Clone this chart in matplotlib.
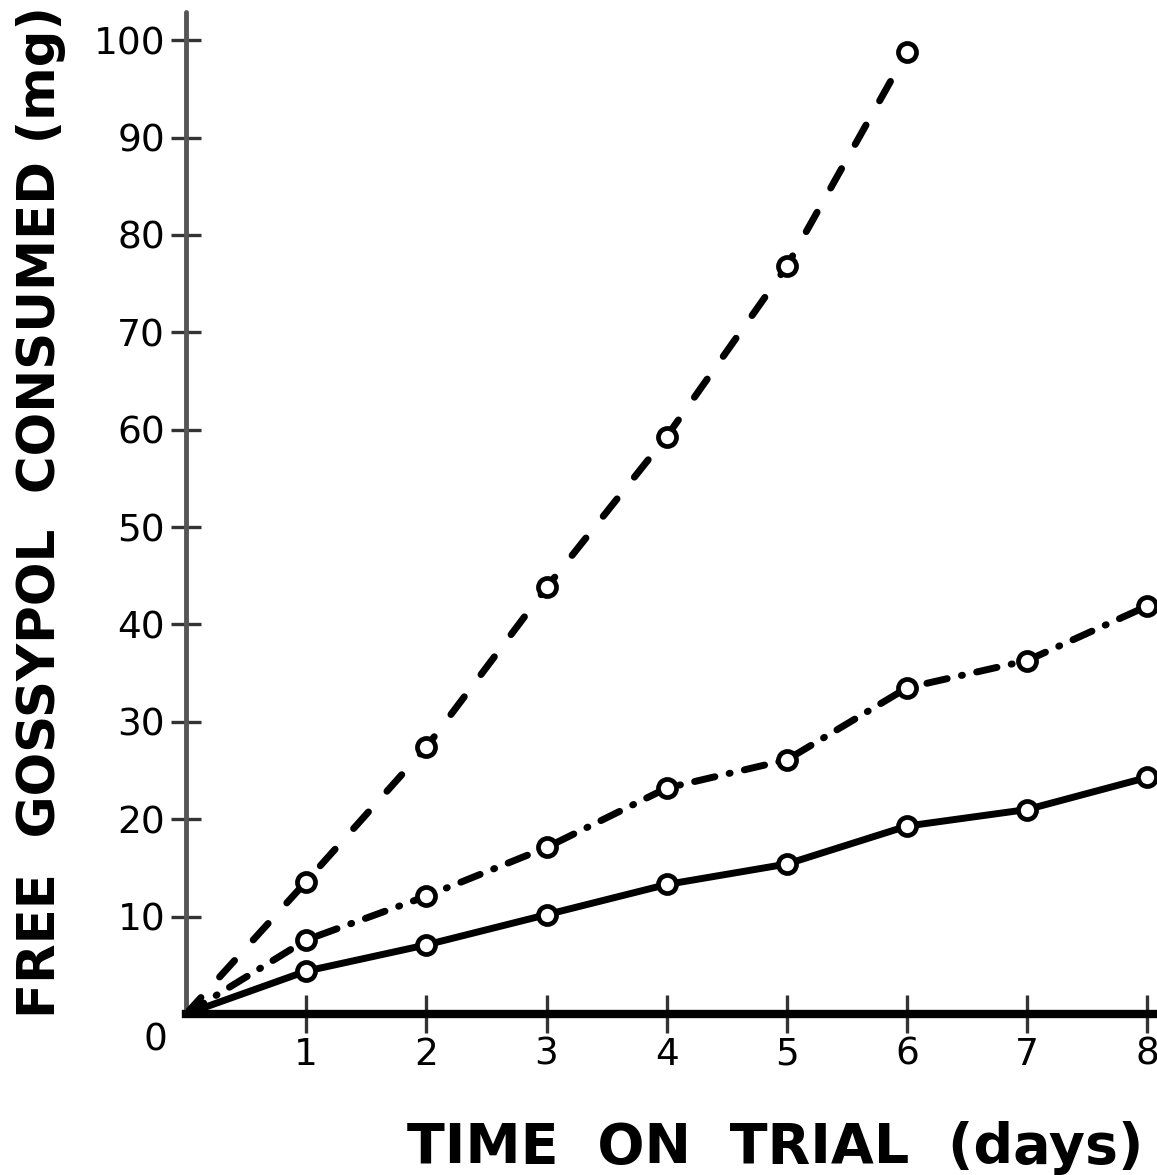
import matplotlib
matplotlib.use('Agg')
import matplotlib.pyplot as plt

# ---- data ----
days_dashed = [0, 1, 2, 3, 4, 5, 6]
dashed_vals = [0, 13.6, 27.4, 43.8, 59.3, 76.8, 98.8]

days_full = [0, 1, 2, 3, 4, 5, 6, 7, 8]
dashdot_vals = [0, 7.6, 12.1, 17.1, 23.2, 26.1, 33.5, 36.3, 41.9]
solid_vals = [0, 4.4, 7.1, 10.2, 13.3, 15.4, 19.3, 21.0, 24.3]

x_ticks = [1, 2, 3, 4, 5, 6, 7, 8]
x_tick_labels = ['1', '2', '3', '4', '5', '6', '7', '8']
y_ticks = [10, 20, 30, 40, 50, 60, 70, 80, 90, 100]
y_tick_labels = ['10', '20', '30', '40', '50', '60', '70', '80', '90', '100']

x_label = 'TIME  ON  TRIAL  (days)'
y_label = 'FREE  GOSSYPOL  CONSUMED (mg)'

plt.rcParams['font.family'] = ['DejaVu Sans']

W, H = 1157, 1175
fig = plt.figure(figsize=(W / 100, H / 100), dpi=100)
left_px, bottom_px, top_px = 186, 1014, 12
ax = fig.add_axes([left_px / W, (H - bottom_px) / H, (W - left_px) / W, (bottom_px - top_px) / H])

ax.set_xlim(0, 8.08)
ax.set_ylim(0, 102.9)

lw = 5
mk = dict(marker='o', markersize=13, markerfacecolor='white',
          markeredgecolor='black', markeredgewidth=3.4, markevery=slice(1, None))

ax.plot(days_dashed, dashed_vals, color='black', lw=lw, dashes=(3.2, 4.0),
        dash_capstyle='round', solid_capstyle='round', zorder=3, **mk)
ax.plot(days_full, dashdot_vals, color='black', lw=lw, dashes=(3.0, 2.1, 0.15, 2.1),
        dash_capstyle='round', zorder=3, **mk)
ax.plot(days_full, solid_vals, color='black', lw=lw, solid_capstyle='round',
        zorder=3, **mk)

for s in ('top', 'right'):
    ax.spines[s].set_visible(False)
ax.spines['bottom'].set_linewidth(6)
ax.spines['bottom'].set_color('black')
ax.spines['left'].set_linewidth(3.5)
ax.spines['left'].set_color('#555555')
ax.spines['left'].set_capstyle('round')

ax.set_xticks(x_ticks)
ax.set_xticklabels(x_tick_labels)
ax.set_yticks(y_ticks)
ax.set_yticklabels(y_tick_labels)
ax.tick_params(axis='x', direction='inout', length=27, width=2.4, color='#333333',
               labelsize=27, pad=3)
ax.tick_params(axis='y', direction='inout', length=22, width=2.4, color='#333333',
               labelsize=27, pad=4)

# zero label placed below-left of the origin
ax.annotate('0', xy=(0, 0), xycoords='data', xytext=(-22, -19),
            textcoords='offset points', ha='center', va='center', fontsize=27)

fig.text(775 / W, (H - 1163) / H, x_label, ha='center', va='baseline',
         fontsize=40, fontweight='bold')
fig.text(55 / W, 1 - 512 / H, y_label, ha='center', va='baseline',
         rotation=90, rotation_mode='anchor', fontsize=37, fontweight='bold')

fig.savefig('out.png', dpi=100, facecolor='white')
